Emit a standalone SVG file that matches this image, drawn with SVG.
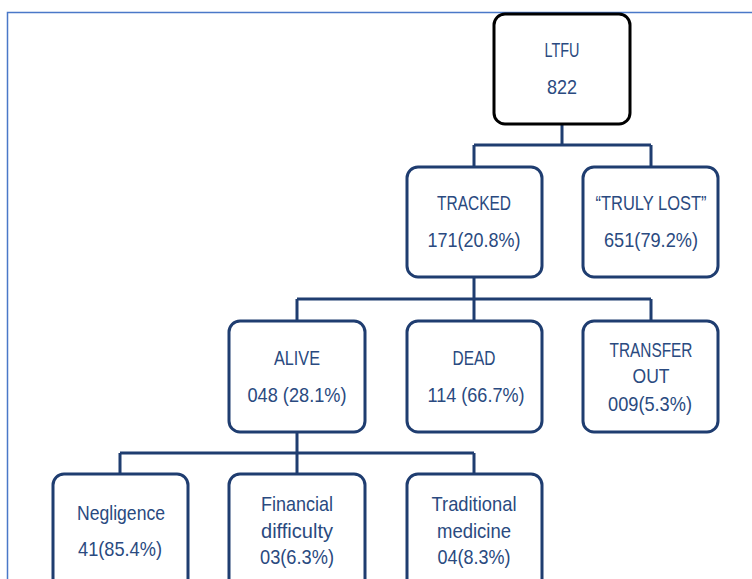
<svg xmlns="http://www.w3.org/2000/svg" width="752" height="579" viewBox="0 0 752 579">
<style>
.box{fill:#fff;stroke:#1F3D70;stroke-width:3}
.root{fill:#fff;stroke:#000;stroke-width:3}
.con{fill:none;stroke:#1F3D70;stroke-width:3}
text{font-family:"Liberation Sans",Arial,sans-serif;font-size:21px;fill:#2A4A80;text-anchor:middle}
</style>
<rect width="752" height="579" fill="#fff"/>
<path d="M752 12.5 H7.5 V579" fill="none" stroke="#4A78C8" stroke-width="1.5"/>
<g id="connectors">
<path class="con" d="M562 124 V145 M474 145 H651 M474 145 V167 M651 145 V167"/>
<path class="con" d="M474 277 V299 M297 299 H651 M297 299 V321 M474 299 V321 M651 299 V321"/>
<path class="con" d="M297 432 V453 M120 453 H474 M120 453 V474 M297 453 V474 M474 453 V474"/>
</g>
<g id="ltfu">
<rect class="root" x="494" y="14" width="136" height="110" rx="11"/>
<text x="562" y="57" textLength="35" lengthAdjust="spacingAndGlyphs">LTFU</text>
<text x="562" y="94" textLength="30" lengthAdjust="spacingAndGlyphs">822</text>
</g>
<g id="tracked">
<rect class="box" x="407" y="167" width="135" height="110" rx="11"/>
<text x="474" y="210" textLength="74" lengthAdjust="spacingAndGlyphs">TRACKED</text>
<text x="474" y="247" textLength="93" lengthAdjust="spacingAndGlyphs">171(20.8%)</text>
</g>
<g id="truly-lost">
<rect class="box" x="583" y="167" width="135" height="110" rx="11"/>
<text x="651" y="210" textLength="111" lengthAdjust="spacingAndGlyphs">“TRULY LOST”</text>
<text x="651" y="247" textLength="94" lengthAdjust="spacingAndGlyphs">651(79.2%)</text>
</g>
<g id="alive">
<rect class="box" x="229" y="321" width="136" height="111" rx="11"/>
<text x="297" y="365" textLength="46" lengthAdjust="spacingAndGlyphs">ALIVE</text>
<text x="297" y="402" textLength="99" lengthAdjust="spacingAndGlyphs">048 (28.1%)</text>
</g>
<g id="dead">
<rect class="box" x="407" y="321" width="135" height="111" rx="11"/>
<text x="474" y="365" textLength="43" lengthAdjust="spacingAndGlyphs">DEAD</text>
<text x="476" y="402" textLength="97" lengthAdjust="spacingAndGlyphs">114 (66.7%)</text>
</g>
<g id="transfer-out">
<rect class="box" x="583" y="321" width="135" height="111" rx="11"/>
<text x="651" y="357" textLength="83" lengthAdjust="spacingAndGlyphs">TRANSFER</text>
<text x="651" y="383" textLength="37" lengthAdjust="spacingAndGlyphs">OUT</text>
<text x="650" y="411" textLength="84" lengthAdjust="spacingAndGlyphs">009(5.3%)</text>
</g>
<g id="negligence">
<rect class="box" x="53" y="474" width="135" height="120" rx="11"/>
<text x="121" y="520" textLength="88" lengthAdjust="spacingAndGlyphs">Negligence</text>
<text x="120" y="556" textLength="84" lengthAdjust="spacingAndGlyphs">41(85.4%)</text>
</g>
<g id="financial">
<rect class="box" x="229" y="474" width="136" height="120" rx="11"/>
<text x="297" y="511" textLength="72" lengthAdjust="spacingAndGlyphs">Financial</text>
<text x="297" y="538" textLength="72" lengthAdjust="spacingAndGlyphs">difficulty</text>
<text x="297" y="564" textLength="74" lengthAdjust="spacingAndGlyphs">03(6.3%)</text>
</g>
<g id="traditional">
<rect class="box" x="407" y="474" width="135" height="120" rx="11"/>
<text x="474" y="511" textLength="85" lengthAdjust="spacingAndGlyphs">Traditional</text>
<text x="474" y="538" textLength="74" lengthAdjust="spacingAndGlyphs">medicine</text>
<text x="474" y="564" textLength="73" lengthAdjust="spacingAndGlyphs">04(8.3%)</text>
</g>
</svg>
